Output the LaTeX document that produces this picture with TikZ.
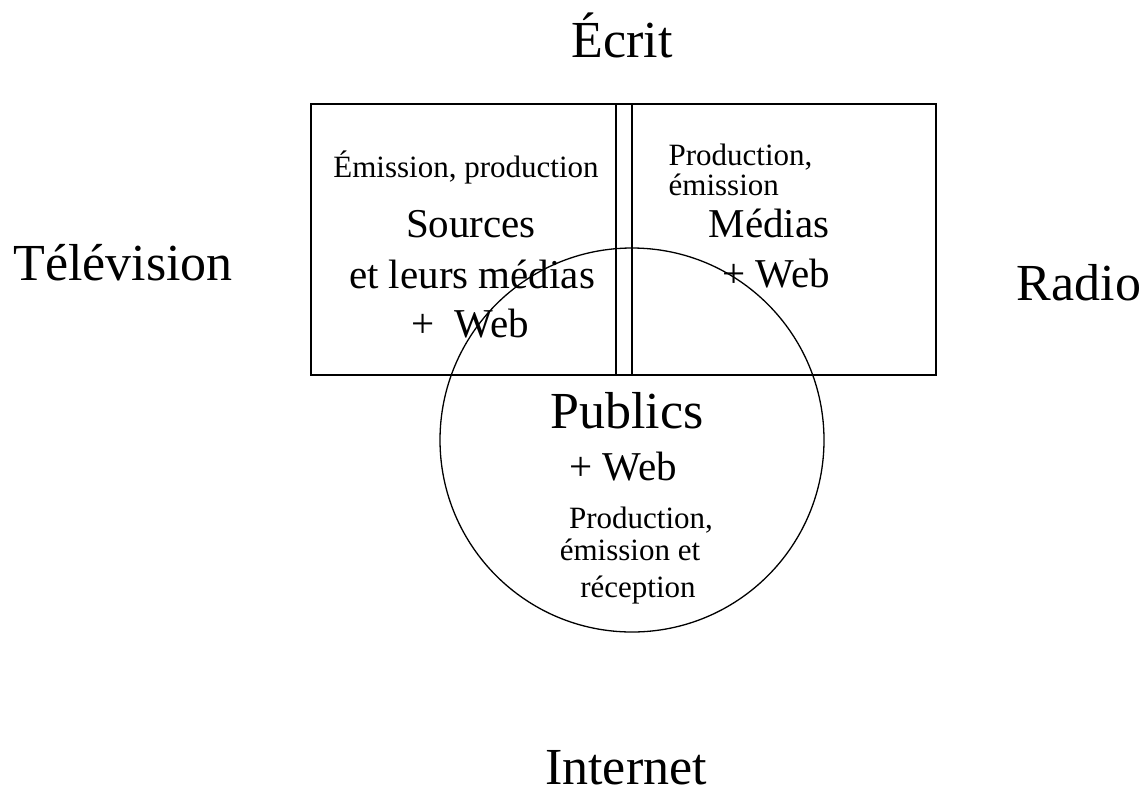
\documentclass[tikz,border=0pt]{standalone}
\usepackage{fontspec}
\setmainfont{Liberation Serif}
\usepackage{tikz}
\usetikzlibrary{calc}

\tikzset{
  big/.style={anchor=base, inner sep=0pt, font=\fontsize{52}{56}\selectfont},
  mid/.style={anchor=base, inner sep=0pt, font=\fontsize{41}{46}\selectfont},
  small/.style={anchor=base, inner sep=0pt, font=\fontsize{31}{34}\selectfont},
}

\begin{document}
\begin{tikzpicture}[x=1pt, y=-1pt, line width=1.3pt]
			\useasboundingbox (0,0) rectangle (1147,796);
			\def\rad{192};
			\draw (311,104) rectangle (936,375);
			\draw (616,104) rectangle (632,375);
			\draw (632,440) circle (\rad);
			\node[big] (ecrit) at (622,57) {Écrit};
			\node[big] (tele) at (123,280) {Télévision};
			\node[big] (radio) at (1079,300) {Radio};
			\node[big] (internet) at (626,784) {Internet};
			\node[small] (emprod) at (466,177) {Émission, production};
			\node[mid] (sources) at (471,237) {Sources};
			\node[mid] (leurs) at (472,288) {et leurs médias};
			\node[mid] (webs) at (470,337) {+\ \ Web};
			\node[small, anchor=base west] (prodm) at (668,165) {Production,};
			\node[small, anchor=base west] (emim) at (668,195) {émission};
			\node[mid] (medias) at (769,237) {Médias};
			\node[mid] (webm) at (776,287) {+ Web};
			\node[big] (publics) at (627,428) {Publics};
			\node[mid] (webp) at (623,480) {+ Web};
			\node[small] (prodp) at (641,528) {Production,};
			\node[small] (emip) at (630,560) {émission et};
			\node[small] (recep) at (638,597) {réception};
\end{tikzpicture}
\end{document}
